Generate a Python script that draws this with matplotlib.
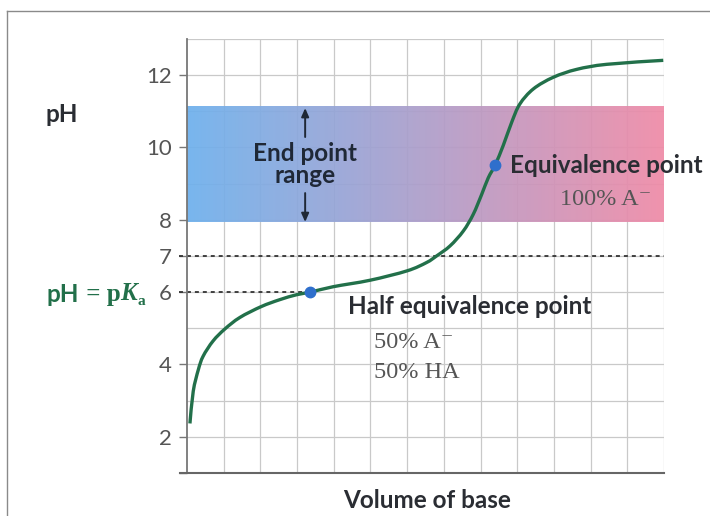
import numpy as np
import matplotlib
matplotlib.use("Agg")
import matplotlib.pyplot as plt
from matplotlib.lines import Line2D
from matplotlib.path import Path
from matplotlib.patches import PathPatch

# Titration curve readings: volume of base added (grid units) vs pH
volume = [0.08, 0.17, 0.31, 0.44, 0.71, 1.03, 1.44, 2.02, 2.52, 2.99, 3.36,
          3.98, 4.99, 6.00, 6.53, 6.80, 7.17, 7.53, 7.80, 8.03, 8.21, 8.40,
          8.62, 8.85, 9.07, 9.44, 9.98, 10.62, 11.44, 12.98]
ph = [2.37, 3.26, 3.86, 4.23, 4.65, 4.98, 5.30, 5.60, 5.79, 5.93, 6.00,
      6.15, 6.33, 6.59, 6.82, 7.00, 7.28, 7.69, 8.15, 8.70, 9.16, 9.52,
      10.06, 10.70, 11.20, 11.62, 11.94, 12.16, 12.30, 12.41]

half_eq_point = (3.36, 6.0)
equiv_point = (8.40, 9.52)
end_point_range = (7.95, 11.15)
pka = 6
neutral_ph = 7

ytick_values = [1, 2, 4, 6, 7, 8, 10, 12]
ytick_labels = ["", "2", "4", "6", "7", "8", "10", "12"]

SANS = ["Lato", "DejaVu Sans"]
SERIF = ["Liberation Serif", "DejaVu Serif"]
GREEN = "#22704a"
DOT = "#2f6fcc"
DARK = "#2a2d33"
GREY_TXT = "#555555"
LABEL_SIZE = 17.5
SERIF_SIZE = 17.5


def smooth_path(xs, ys):
    """Catmull-Rom curve through the given points, as cubic Bezier segments."""
    p = np.column_stack([xs, ys]).astype(float)
    n = len(p)
    verts = [p[0]]
    codes = [Path.MOVETO]
    for i in range(n - 1):
        p0 = p[i - 1] if i > 0 else p[i]
        p1, p2 = p[i], p[i + 1]
        p3 = p[i + 2] if i + 2 < n else p[i + 1]
        verts += [p1 + (p2 - p0) / 6, p2 - (p3 - p1) / 6, p2]
        codes += [Path.CURVE4] * 3
    return Path(verts, codes)


fig = plt.figure(figsize=(7.10, 5.16), dpi=100)
ax = fig.add_axes([187 / 710, 1 - 473 / 516, 477 / 710, 434 / 516])

ax.set_xlim(0, 13)
ax.set_ylim(1, 13)

# square grid
for gx in np.arange(1, 14, 1):
    ax.axvline(gx, color="#c9c9c9", lw=0.9, zorder=0)
for gy in np.arange(2, 14, 1):
    ax.axhline(gy, color="#c9c9c9", lw=0.9, zorder=0)
ax.set_xticks([])

ax.set_yticks(ytick_values)
ax.set_yticklabels(ytick_labels, fontfamily=SANS, fontsize=16, color=GREY_TXT)
ax.tick_params(axis="y", length=6, width=1.0, color="#777777", pad=5)

for side in ("top", "right"):
    ax.spines[side].set_visible(False)
ax.spines["left"].set_color("#777777")
ax.spines["left"].set_linewidth(1.3)
ax.spines["bottom"].set_color("#666666")
ax.spines["bottom"].set_linewidth(1.5)
ax.spines["bottom"].set_bounds(-0.2, 13)

# end point colour band (blue -> violet -> pink)
blue = np.array([110, 177, 237]) / 255
pink = np.array([239, 139, 167]) / 255
t = np.linspace(0, 1, 400)[None, :, None]
grad = (1 - t) * blue + t * pink
ax.imshow(grad, extent=[0, 13, end_point_range[0], end_point_range[1]],
          aspect="auto", zorder=1, alpha=0.93)

# dashed reference lines at pH 7 and pH = pKa
ax.plot([-0.22, 13], [neutral_ph, neutral_ph], ls=(0, (2.2, 2.2)), lw=1.3,
        color="#333333", zorder=2, clip_on=False)
ax.plot([-0.22, half_eq_point[0]], [pka, pka], ls=(0, (2.2, 2.2)), lw=1.3,
        color="#333333", zorder=2, clip_on=False)

# titration curve
ax.add_patch(PathPatch(smooth_path(volume, ph), facecolor="none",
                       edgecolor=GREEN, lw=2.4, capstyle="butt",
                       joinstyle="round", zorder=3))
ax.plot(*half_eq_point, "o", ms=7.5, color=DOT, zorder=4)
ax.plot(*equiv_point, "o", ms=7.5, color=DOT, zorder=4)

# end point range label and arrows
ax.text(3.22, 9.52, "End point\nrange", ha="center", va="center",
        fontfamily=SANS, fontweight="bold", fontsize=LABEL_SIZE,
        color="#1f2836", linespacing=0.95, zorder=5)
arrow_kw = dict(arrowstyle="-|>,head_length=0.5,head_width=0.22",
                color="#1f2836", lw=1.4, shrinkA=0, shrinkB=0)
ax.annotate("", xy=(3.22, 11.09), xytext=(3.22, 10.29), arrowprops=arrow_kw,
            zorder=5)
ax.annotate("", xy=(3.22, 7.94), xytext=(3.22, 8.74), arrowprops=arrow_kw,
            zorder=5)

# point annotations
ax.text(8.80, 9.49, "Equivalence point", ha="left", va="center",
        fontfamily=SANS, fontweight="bold", fontsize=LABEL_SIZE, color=DARK,
        zorder=5, clip_on=False)
ax.text(10.16, 8.55, "100% A\u207b", ha="left", va="center",
        fontfamily=SERIF, fontsize=SERIF_SIZE, color=GREY_TXT, zorder=5)
ax.text(4.39, 5.59, "Half equivalence point", ha="left", va="center",
        fontfamily=SANS, fontweight="bold", fontsize=LABEL_SIZE, color=DARK,
        zorder=5)
ax.text(5.10, 4.60, "50% A\u207b", ha="left", va="center",
        fontfamily=SERIF, fontsize=SERIF_SIZE, color=GREY_TXT, zorder=5)
ax.text(5.10, 3.79, "50% HA", ha="left", va="center",
        fontfamily=SERIF, fontsize=SERIF_SIZE, color=GREY_TXT, zorder=5)

# axis titles
fig.text(62 / 710, 1 - 115 / 516, "pH", ha="center", va="center",
         fontfamily=SANS, fontweight="bold", fontsize=LABEL_SIZE, color=DARK)
fig.text(427 / 710, 1 - 500 / 516, "Volume of base", ha="center",
         va="center", fontfamily=SANS, fontweight="bold",
         fontsize=LABEL_SIZE, color=DARK)

# "pH = pKa" in green beside the pKa line
t1 = fig.text(47 / 710, 1 - 294 / 516, "pH", ha="left", va="center",
              fontfamily=SANS, fontweight="bold", fontsize=LABEL_SIZE,
              color=GREEN)
t2 = plt.annotate(" = p", xy=(1, 0), xycoords=t1, va="bottom", ha="left",
                  fontfamily=SERIF, fontweight="bold", fontsize=18,
                  color=GREEN, annotation_clip=False)
t3 = plt.annotate("K", xy=(1, 0), xycoords=t2, va="bottom", ha="left",
                  fontfamily=SERIF, fontweight="bold", fontstyle="italic",
                  fontsize=18, color=GREEN, annotation_clip=False)
plt.annotate("a", xy=(1, 0), xycoords=t3, va="bottom", ha="left",
             xytext=(0.5, -1.5), textcoords="offset points",
             fontfamily=SERIF, fontweight="bold", fontsize=11, color=GREEN,
             annotation_clip=False)

# page frame
fig.add_artist(Line2D([7 / 710, 1], [1 - 11 / 516, 1 - 11 / 516],
                      transform=fig.transFigure, color="#8a8a8a", lw=1.0))
fig.add_artist(Line2D([7 / 710, 7 / 710], [0, 1 - 11 / 516],
                      transform=fig.transFigure, color="#8a8a8a", lw=1.0))

fig.savefig("out.png", dpi=100)
